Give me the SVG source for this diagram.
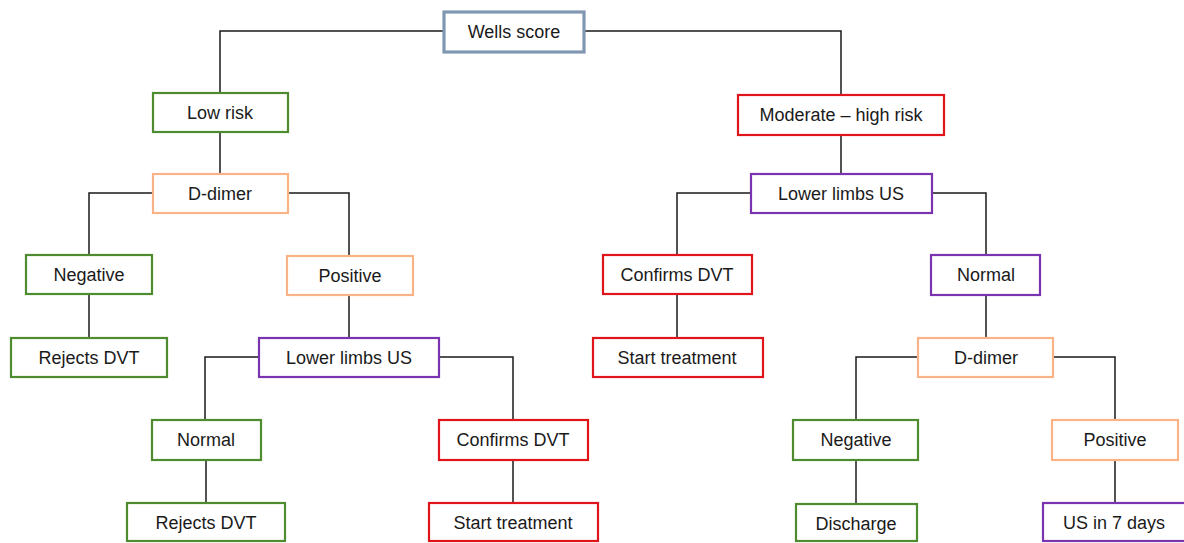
<svg xmlns="http://www.w3.org/2000/svg" width="1184" height="543" viewBox="0 0 1184 543">
  <style>
    .box { fill: #ffffff; stroke-width: 2.2; }
    .blue { stroke: #7f97b3; stroke-width: 3.2; }
    .green { stroke: #4e8c2f; }
    .orange { stroke: #f9b386; }
    .red { stroke: #e0141b; }
    .purple { stroke: #7a34b0; }
    .label { font-family: "Liberation Sans", Arial, sans-serif; font-size: 18px; fill: #1a1a1a; text-anchor: middle; dominant-baseline: central; }
    .edge { fill: none; stroke: #1a1a1a; stroke-width: 1.5; }
  </style>
  <rect width="1184" height="543" fill="#ffffff"/>

  <!-- tree connectors -->
  <g id="connectors">
    <path class="edge" d="M444 31 H220 V93"/>
    <path class="edge" d="M584 31 H841 V95"/>
    <path class="edge" d="M220 132 V174"/>
    <path class="edge" d="M153 193 H89 V255"/>
    <path class="edge" d="M288 193 H349 V256"/>
    <path class="edge" d="M89 294 V338"/>
    <path class="edge" d="M349 295 V338"/>
    <path class="edge" d="M259 357 H205 V420"/>
    <path class="edge" d="M439 357 H513 V420"/>
    <path class="edge" d="M206 460 V503"/>
    <path class="edge" d="M513 460 V503"/>
    <path class="edge" d="M841 135 V174"/>
    <path class="edge" d="M751 193 H677 V255"/>
    <path class="edge" d="M932 193 H986 V255"/>
    <path class="edge" d="M677 294 V338"/>
    <path class="edge" d="M986 295 V338"/>
    <path class="edge" d="M918 357 H856 V420"/>
    <path class="edge" d="M1053 357 H1115 V420"/>
    <path class="edge" d="M856 460 V504"/>
    <path class="edge" d="M1115 460 V503"/>
  </g>

  <g id="wells-score">
    <rect class="box blue" x="444" y="12" width="140" height="40"/>
    <text class="label" x="514" y="32">Wells score</text>
  </g>

  <!-- low-risk branch -->
  <g id="low-risk">
    <rect class="box green" x="153" y="93" width="135" height="39"/>
    <text class="label" x="220" y="113">Low risk</text>
  </g>
  <g id="d-dimer-low">
    <rect class="box orange" x="153" y="174" width="135" height="39"/>
    <text class="label" x="220" y="194">D-dimer</text>
  </g>
  <g id="negative-low">
    <rect class="box green" x="26" y="255" width="126" height="39"/>
    <text class="label" x="89" y="275">Negative</text>
  </g>
  <g id="rejects-dvt-low">
    <rect class="box green" x="11" y="338" width="156" height="39"/>
    <text class="label" x="89" y="358">Rejects DVT</text>
  </g>
  <g id="positive-low">
    <rect class="box orange" x="287" y="256" width="126" height="39"/>
    <text class="label" x="350" y="276">Positive</text>
  </g>
  <g id="us-low">
    <rect class="box purple" x="259" y="338" width="180" height="39"/>
    <text class="label" x="349" y="358">Lower limbs US</text>
  </g>
  <g id="normal-low">
    <rect class="box green" x="152" y="420" width="109" height="40"/>
    <text class="label" x="206" y="440">Normal</text>
  </g>
  <g id="rejects-dvt-us">
    <rect class="box green" x="127" y="503" width="158" height="38"/>
    <text class="label" x="206" y="523">Rejects DVT</text>
  </g>
  <g id="confirms-dvt-low">
    <rect class="box red" x="439" y="420" width="149" height="40"/>
    <text class="label" x="513" y="440">Confirms DVT</text>
  </g>
  <g id="start-treatment-low">
    <rect class="box red" x="429" y="503" width="169" height="38"/>
    <text class="label" x="513" y="523">Start treatment</text>
  </g>

  <!-- moderate/high-risk branch -->
  <g id="moderate-high">
    <rect class="box red" x="738" y="95" width="206" height="40"/>
    <text class="label" x="841" y="115">Moderate – high risk</text>
  </g>
  <g id="us-high">
    <rect class="box purple" x="751" y="174" width="181" height="39"/>
    <text class="label" x="841" y="194">Lower limbs US</text>
  </g>
  <g id="confirms-dvt-high">
    <rect class="box red" x="603" y="255" width="149" height="39"/>
    <text class="label" x="677" y="275">Confirms DVT</text>
  </g>
  <g id="start-treatment-high">
    <rect class="box red" x="593" y="338" width="170" height="39"/>
    <text class="label" x="677" y="358">Start treatment</text>
  </g>
  <g id="normal-high">
    <rect class="box purple" x="931" y="255" width="109" height="40"/>
    <text class="label" x="986" y="275">Normal</text>
  </g>
  <g id="d-dimer-high">
    <rect class="box orange" x="918" y="338" width="135" height="39"/>
    <text class="label" x="986" y="358">D-dimer</text>
  </g>
  <g id="negative-high">
    <rect class="box green" x="793" y="420" width="125" height="40"/>
    <text class="label" x="856" y="440">Negative</text>
  </g>
  <g id="discharge">
    <rect class="box green" x="796" y="504" width="121" height="37"/>
    <text class="label" x="856" y="524">Discharge</text>
  </g>
  <g id="positive-high">
    <rect class="box orange" x="1052" y="420" width="126" height="40"/>
    <text class="label" x="1115" y="440">Positive</text>
  </g>
  <g id="us-7-days">
    <rect class="box purple" x="1043" y="503" width="150" height="38"/>
    <text class="label" x="1114" y="523">US in 7 days</text>
  </g>
</svg>
